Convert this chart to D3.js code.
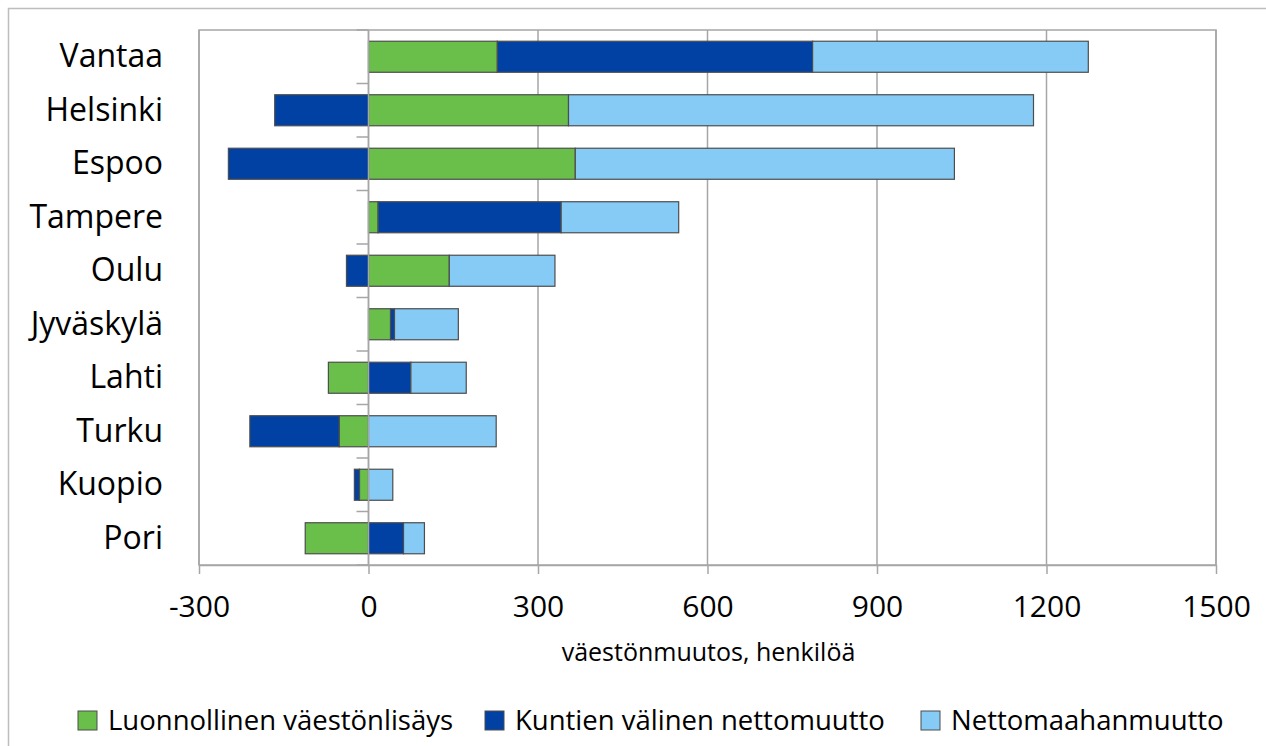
<!DOCTYPE html>
<html>
<head>
<meta charset="utf-8">
<script src="https://cdn.jsdelivr.net/npm/d3@7"></script>
<style>
  body { margin: 0; background: #fff; }
  svg { display: block; font-family: "Open Sans", sans-serif; }
</style>
</head>
<body>
<div id="graph"></div>
<script>
// data
var cities = ["Vantaa", "Helsinki", "Espoo", "Tampere", "Oulu", "Jyväskylä", "Lahti", "Turku", "Kuopio", "Pori"];
var luonnollinen = [228, 354, 366, 17, 143, 39, -71, -52, -16, -112];
var kuntien = [558, -166, -248, 324, -39, 7, 75, -158, -9, 62];
var nettomaahan = [488, 823, 671, 208, 187, 113, 98, 226, 43, 37];
var seriesNames = ["Luonnollinen väestönlisäys", "Kuntien välinen nettomuutto", "Nettomaahanmuutto"];
var colors = ["#6abf4b", "#0041a3", "#85cbf5"];
var xTicks = [-300, 0, 300, 600, 900, 1200, 1500];

var W = 1266, H = 746;
var margin = {top: 30, right: 50, bottom: 181, left: 199},
    width = 1216 - margin.left,
    height = 565 - margin.top;

var svg = d3.select("#graph")
    .append("svg")
    .attr("width", W)
    .attr("height", H);

// outer frame (cropped on right/bottom like the original)
svg.append("rect")
    .attr("x", 8.5).attr("y", 8.5)
    .attr("width", 1320).attr("height", 800)
    .attr("fill", "none")
    .attr("stroke", "#bdbdbd")
    .attr("stroke-width", 1.5);

var g = svg.append("g")
    .attr("transform", "translate(" + margin.left + "," + margin.top + ")");

var xScale = d3.scaleLinear()
    .domain([-300, 1500])
    .range([0, width]);
var yScale = d3.scaleBand()
    .domain(cities)
    .range([0, height])
    .paddingInner(0.42)
    .paddingOuter(0.21);

// gridlines
g.selectAll(".grid")
    .data(xTicks)
    .enter()
    .append("line")
    .attr("class", "grid")
    .attr("x1", function(d) { return xScale(d); })
    .attr("x2", function(d) { return xScale(d); })
    .attr("y1", 0)
    .attr("y2", height)
    .attr("stroke", "#a6a6a6")
    .attr("stroke-width", 1.5);

// plot border
g.append("rect")
    .attr("x", 0).attr("y", 0)
    .attr("width", width).attr("height", height)
    .attr("fill", "none")
    .attr("stroke", "#a6a6a6")
    .attr("stroke-width", 1.5);

// stacked data
var table = cities.map(function(c, i) {
    return {city: c, s0: luonnollinen[i], s1: kuntien[i], s2: nettomaahan[i]};
});
var stack = d3.stack()
    .keys(["s0", "s1", "s2"])
    .offset(d3.stackOffsetDiverging);
var layers = stack(table);

g.selectAll(".layer")
    .data(layers)
    .enter()
    .append("g")
    .attr("class", "layer")
    .attr("fill", function(d, i) { return colors[i]; })
    .selectAll("rect")
    .data(function(d) { return d; })
    .enter()
    .append("rect")
    .attr("x", function(d) { return xScale(Math.min(d[0], d[1])); })
    .attr("width", function(d) { return Math.abs(xScale(d[1]) - xScale(d[0])); })
    .attr("y", function(d) { return yScale(d.data.city); })
    .attr("height", yScale.bandwidth())
    .attr("stroke", "#4d4d4d")
    .attr("stroke-width", 1.2);

// vertical axis at zero with ticks between categories
var x0 = xScale(0);
g.append("line")
    .attr("x1", x0).attr("x2", x0)
    .attr("y1", 0).attr("y2", height)
    .attr("stroke", "#a6a6a6")
    .attr("stroke-width", 1.5);
var bounds = d3.range(cities.length + 1).map(function(i) { return i * height / cities.length; });
g.selectAll(".ytick")
    .data(bounds)
    .enter()
    .append("line")
    .attr("class", "ytick")
    .attr("x1", x0 - 12).attr("x2", x0)
    .attr("y1", function(d) { return d; })
    .attr("y2", function(d) { return d; })
    .attr("stroke", "#a6a6a6")
    .attr("stroke-width", 1.5);

// category labels
var yaxis = d3.axisLeft(yScale).tickSize(0).tickPadding(0);
var ya = g.append("g")
    .attr("transform", "translate(" + (163 - margin.left) + ",0)")
    .call(yaxis);
ya.select(".domain").remove();
ya.selectAll("text")
    .attr("font-family", "Open Sans")
    .style("font-size", "32px")
    .attr("fill", "#000");

// x axis
var xaxis = d3.axisBottom(xScale)
    .tickValues(xTicks)
    .tickFormat(function(d) { return String(d); })
    .tickSize(9)
    .tickPadding(22)
    .tickSizeOuter(0);
var xa = g.append("g")
    .attr("transform", "translate(0," + height + ")")
    .call(xaxis);
xa.select(".domain").attr("stroke", "#a6a6a6").attr("stroke-width", 1.5);
xa.selectAll(".tick line").attr("stroke", "#a6a6a6").attr("stroke-width", 1.5);
xa.selectAll("text")
    .attr("font-family", "Open Sans")
    .style("font-size", "30px")
    .attr("fill", "#000");

// axis title
svg.append("text")
    .attr("x", margin.left + width / 2 + 1)
    .attr("y", 661)
    .style("text-anchor", "middle")
    .style("font-size", "25px")
    .text("väestönmuutos, henkilöä");

// legend
var legendX = [78, 485, 921];
var leg = svg.selectAll(".leg")
    .data(seriesNames)
    .enter()
    .append("g")
    .attr("class", "leg")
    .attr("transform", function(d, i) { return "translate(" + legendX[i] + ",711)"; });
leg.append("rect")
    .attr("width", 19).attr("height", 19)
    .attr("fill", function(d, i) { return colors[i]; })
    .attr("stroke", "#4d4d4d")
    .attr("stroke-width", 1);
leg.append("text")
    .attr("x", 30)
    .attr("y", 19)
    .style("font-size", "27.5px")
    .text(function(d) { return d; });
</script>
</body>
</html>
